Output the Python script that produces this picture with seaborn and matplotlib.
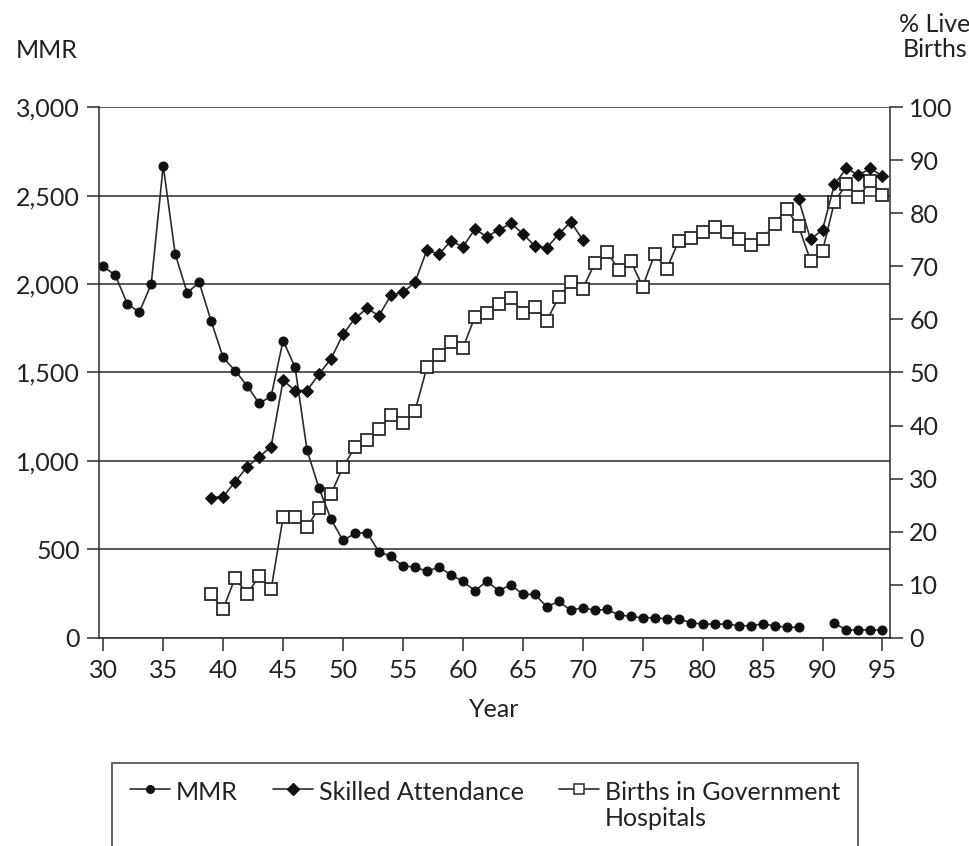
import numpy as np
import pandas as pd
import matplotlib
matplotlib.use("Agg")
import matplotlib.pyplot as plt
import seaborn as sns

# ---------------- data ----------------
mmr_years = list(range(30, 89)) + list(range(91, 96))
mmr = [2100, 2050, 1890, 1840, 2000, 2670, 2170, 1950, 2010, 1790,
       1585, 1510, 1425, 1325, 1365, 1680, 1530, 1060, 845, 670,
       550, 590, 595, 485, 460, 405, 400, 375, 400, 355,
       320, 265, 320, 265, 300, 245, 245, 175, 205, 155,
       170, 155, 160, 130, 120, 113, 113, 106, 106, 85,
       77, 77, 77, 68, 68, 77, 68, 59, 59,
       81, 44, 44, 44, 44]
mmr_seg = [0] * 59 + [1] * 5

sa_years = list(range(39, 71)) + list(range(88, 96))
skilled = [26.4, 26.6, 29.4, 32.2, 34.1, 36.0, 48.5, 46.6, 46.6, 49.7,
           52.6, 57.2, 60.2, 62.1, 60.7, 64.6, 65.1, 67.0, 73.1, 72.3,
           74.8, 73.7, 77.0, 75.6, 76.9, 78.1, 76.2, 73.8, 73.5, 76.1,
           78.4, 75.0,
           82.7, 75.1, 76.9, 85.5, 88.5, 87.2, 88.5, 87.0]
sa_seg = [0] * 32 + [1] * 8

gh_years = list(range(39, 96))
govt = [8.2, 5.4, 11.3, 8.2, 11.6, 9.1, 22.7, 22.7, 20.9, 24.4,
        27.1, 32.2, 35.9, 37.3, 39.3, 42.0, 40.5, 42.7, 51.0, 53.3,
        55.8, 54.6, 60.5, 61.2, 62.9, 64.1, 61.3, 62.3, 59.8, 64.2,
        67.0, 65.8, 70.6, 72.8, 69.4, 71.0, 66.2, 72.3, 69.5, 74.8,
        75.3, 76.5, 77.4, 76.4, 75.1, 74.0, 75.1, 78.0, 80.8, 77.6,
        71.1, 72.9, 82.2, 85.5, 83.1, 86.1, 83.5]

x_ticks = list(range(30, 100, 5))
left_ticks = [0, 500, 1000, 1500, 2000, 2500, 3000]
right_ticks = list(range(0, 101, 10))

df_mmr = pd.DataFrame({"Year": mmr_years, "MMR": mmr, "seg": mmr_seg})
df_sa = pd.DataFrame({"Year": sa_years, "v": skilled, "seg": sa_seg})
df_gh = pd.DataFrame({"Year": gh_years, "v": govt})

# ---------------- style ----------------
sns.set_theme(style="white")
plt.rcParams["font.family"] = ["Lato", "DejaVu Sans"]
INK = "#2b2b2b"
FS = 18

fig = plt.figure(figsize=(9.70, 8.46), dpi=100)
ax = fig.add_axes([0.1024, 0.2462, 0.815, 0.627])
ax2 = ax.twinx()

ax.set_axisbelow(True)
ax.yaxis.grid(True, color=INK, linewidth=1.1)
ax.xaxis.grid(False)

sns.lineplot(data=df_mmr, x="Year", y="MMR", units="seg", estimator=None,
             color=INK, linewidth=1.2, marker="o", markersize=6.5,
             markerfacecolor="#111111", markeredgecolor="#111111",
             ax=ax, legend=False)

sns.lineplot(data=df_gh, x="Year", y="v", color=INK, linewidth=1.2,
             marker="s", markersize=8.5, markerfacecolor="white",
             markeredgecolor=INK, markeredgewidth=1.3, ax=ax2, legend=False)

sns.lineplot(data=df_sa, x="Year", y="v", units="seg", estimator=None,
             color=INK, linewidth=1.2, marker="D", markersize=6.5,
             markerfacecolor="#111111", markeredgecolor="#111111",
             ax=ax2, legend=False)

ax.set_xlim(29.67, 95.62)
ax.set_ylim(0, 3000)
ax2.set_ylim(0, 100)
ax.set_xticks(x_ticks)
ax.set_xticklabels([str(t) for t in x_ticks])
ax.set_yticks(left_ticks)
ax.set_yticklabels([f"{t:,}" for t in left_ticks])
ax2.set_yticks(right_ticks)
ax2.set_yticklabels([str(t) for t in right_ticks])

for a in (ax, ax2):
    for s in a.spines.values():
        s.set_visible(False)
ax.spines["left"].set_visible(True)
ax.spines["bottom"].set_visible(True)
ax2.spines["right"].set_visible(True)
for s in (ax.spines["left"], ax.spines["bottom"], ax2.spines["right"]):
    s.set_color(INK)
    s.set_linewidth(1.1)

ax.tick_params(axis="both", direction="out", length=9, width=1.1, color=INK,
               labelsize=FS, labelcolor="#222222", pad=5)
ax.tick_params(axis="x", pad=6)
ax2.tick_params(axis="y", direction="out", length=9, width=1.1, color=INK,
                labelsize=FS, labelcolor="#222222", pad=5)
ax.tick_params(left=True, bottom=True)
ax2.tick_params(right=True)

ax.set_xlabel("Year", fontsize=FS, color="#222222", labelpad=12)
ax.set_ylabel("")
ax2.set_ylabel("")

fig.text(47 / 970, 1 - 50 / 846, "MMR", fontsize=FS, color="#222222",
         ha="center", va="center")
fig.text(935 / 970, 1 - 37 / 846, "% Live\nBirths", fontsize=FS,
         color="#222222", ha="center", va="center", linespacing=1.15)

# legend
from matplotlib.lines import Line2D
handles = [
    Line2D([], [], color=INK, lw=1.2, marker="o", markersize=5.5,
           markerfacecolor="#111111", markeredgecolor="#111111"),
    Line2D([], [], color=INK, lw=1.2, marker="D", markersize=6,
           markerfacecolor="#111111", markeredgecolor="#111111"),
    Line2D([], [], color=INK, lw=1.2, marker="s", markersize=7,
           markerfacecolor="white", markeredgecolor=INK, markeredgewidth=1.1),
]
labels = ["MMR", "Skilled Attendance", "Births in Government\nHospitals"]
leg = fig.legend(handles, labels, loc="upper left",
                 bbox_to_anchor=(112 / 970, 1 - 763 / 846),
                 ncol=3, fontsize=FS, frameon=True, fancybox=False,
                 edgecolor=INK, handlelength=1.6, handletextpad=0.25,
                 columnspacing=1.4, borderpad=0.7, borderaxespad=0.0)
leg.get_frame().set_linewidth(1.3)
for t in leg.get_texts():
    t.set_color("#222222")
# align handles and columns to the top line of text
try:
    hbox = leg._legend_handle_box
    hbox.align = "top"
    for col in hbox.get_children():
        col.align = "left"
        for item in col.get_children():
            item.align = "top"
except Exception:
    pass

fig.savefig("out.png", dpi=100)
